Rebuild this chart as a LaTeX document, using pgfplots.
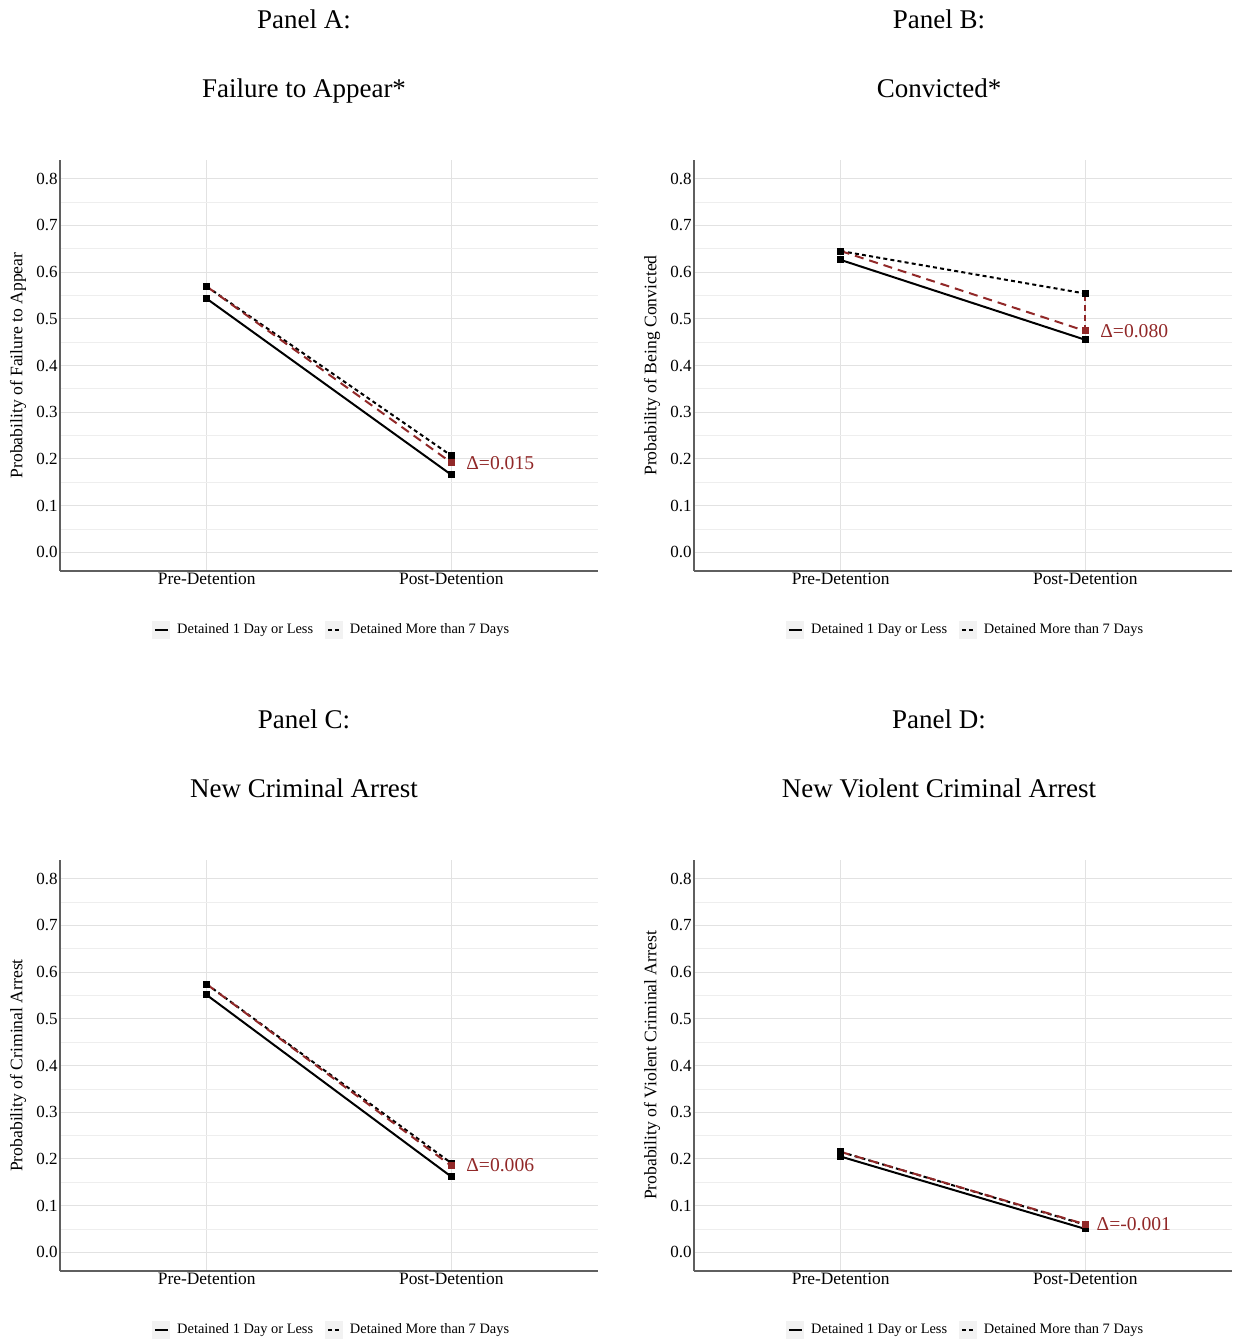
\documentclass[border=0pt]{standalone}
\usepackage{fontspec}
\setmainfont{Liberation Serif}
\usepackage{pgfplots}
\pgfplotsset{compat=1.18}
\definecolor{dred}{RGB}{145,40,40}
\definecolor{gridmaj}{RGB}{226,226,226}
\definecolor{gridmin}{RGB}{238,238,238}
\definecolor{axgray}{RGB}{95,95,95}
\definecolor{keybg}{RGB}{242,242,242}
\pgfplotsset{
  panel/.style={
    scale only axis, width=269pt, height=205.5pt,
    anchor=south west,
    xmin=-0.6, xmax=1.6, ymin=-0.04, ymax=0.84,
    axis x line*=bottom, axis y line*=left,
    axis line style={-, axgray, line width=0.65pt},
    xtick={0,1}, xticklabels={Pre-Detention,Post-Detention},
    ytick={0,0.1,0.2,0.3,0.4,0.5,0.6,0.7,0.8},
    minor ytick={0.05,0.15,0.25,0.35,0.45,0.55,0.65,0.75},
    major tick length=0pt, minor tick length=0pt,
    grid=both,
    major grid style={gridmaj, line width=0.55pt},
    minor grid style={gridmin, line width=0.35pt},
    /pgf/number format/assume math mode=true,
    yticklabel style={font=\fontsize{8.5}{10}\selectfont, inner sep=1pt, /pgf/number format/.cd, fixed, fixed zerofill, precision=1},
    xticklabel style={font=\fontsize{8.7}{10}\selectfont, inner sep=0.6pt},
    every axis y label/.style={at={(axis description cs:-0.078,0.5)}, rotate=90, anchor=center, font=\fontsize{8.8}{10}\selectfont},
    legend style={at={(axis description cs:0.507,-0.1436)}, anchor=center, draw=none, fill=none,
      legend columns=2, font=\fontsize{7.2}{9}\selectfont,
      /tikz/every even column/.append style={column sep=4pt}},
    legend cell align=left,
    clip=false,
  },
  solidl/.style={black, line width=1pt, mark=square*, mark size=1.25pt, mark options={solid}},
  dotl/.style={black, line width=1pt, dash pattern=on 2pt off 1.6pt, mark=square*, mark size=1.25pt, mark options={solid}},
  redl/.style={dred, line width=1pt, dash pattern=on 4.5pt off 3pt, mark=square*, mark size=1.25pt, mark options={solid}, mark indices={2}},
  redv/.style={dred, line width=1pt, dash pattern=on 3pt off 2pt},
  keysolid/.style={legend image code/.code={\fill[keybg] (0pt,-4.2pt) rectangle (8.5pt,4.2pt); \draw[black, line width=1pt] (1pt,0pt) -- (7.5pt,0pt); \path (10pt,0pt);}},
  keydot/.style={legend image code/.code={\fill[keybg] (0pt,-4.2pt) rectangle (8.5pt,4.2pt); \draw[black, line width=1pt, dash pattern=on 2pt off 1.6pt] (1.3pt,0pt) -- (7.5pt,0pt); \path (10pt,0pt);}},
}
\newcommand{\dlabel}[1]{\fontsize{9.8}{11}\selectfont\color{dred}#1}
\begin{document}
\begin{tikzpicture}
\useasboundingbox (0,0) rectangle (616pt,671pt);
% titles
\tikzset{ttl/.style={font=\fontsize{13.5}{15}\selectfont, anchor=base, inner sep=0pt}}
\node[ttl] at (152pt,656.5pt) {Panel A:};
\node[ttl] at (152pt,622pt) {Failure to Appear*};
\node[ttl] at (469.5pt,656.5pt) {Panel B:};
\node[ttl] at (469.5pt,622pt) {Convicted*};
\node[ttl] at (152pt,306.5pt) {Panel C:};
\node[ttl] at (152pt,272pt) {New Criminal Arrest};
\node[ttl] at (469.5pt,306.5pt) {Panel D:};
\node[ttl] at (469.5pt,272pt) {New Violent Criminal Arrest};

% Panel A
\begin{axis}[panel, at={(30pt,385.5pt)}, ylabel={Probability of Failure to Appear}]
\addlegendimage{keysolid}\addlegendentry{Detained 1 Day or Less}
\addlegendimage{keydot}\addlegendentry{Detained More than 7 Days}
\addplot[solidl, forget plot] coordinates {(0,0.543) (1,0.166)};
\addplot[dotl, forget plot] coordinates {(0,0.569) (1,0.207)};
\addplot[redl, forget plot] coordinates {(0,0.569) (1,0.192)};
\addplot[redv, forget plot] coordinates {(1,0.192) (1,0.207)};
\node[anchor=west, inner sep=0pt] at (axis cs:1.06,0.191) {\dlabel{Δ=0.015}};
\end{axis}

% Panel B
\begin{axis}[panel, at={(347pt,385.5pt)}, ylabel={Probability of Being Convicted}]
\addlegendimage{keysolid}\addlegendentry{Detained 1 Day or Less}
\addlegendimage{keydot}\addlegendentry{Detained More than 7 Days}
\addplot[solidl, forget plot] coordinates {(0,0.626) (1,0.455)};
\addplot[dotl, forget plot] coordinates {(0,0.645) (1,0.554)};
\addplot[redl, forget plot] coordinates {(0,0.645) (1,0.474)};
\addplot[redv, forget plot] coordinates {(1,0.474) (1,0.554)};
\node[anchor=west, inner sep=0pt] at (axis cs:1.06,0.474) {\dlabel{Δ=0.080}};
\end{axis}

% Panel C
\begin{axis}[panel, at={(30pt,35.5pt)}, ylabel={Probability of Criminal Arrest}]
\addlegendimage{keysolid}\addlegendentry{Detained 1 Day or Less}
\addlegendimage{keydot}\addlegendentry{Detained More than 7 Days}
\addplot[solidl, forget plot] coordinates {(0,0.551) (1,0.162)};
\addplot[dotl, forget plot] coordinates {(0,0.574) (1,0.191)};
\addplot[redl, forget plot] coordinates {(0,0.574) (1,0.185)};
\addplot[redv, forget plot] coordinates {(1,0.185) (1,0.191)};
\node[anchor=west, inner sep=0pt] at (axis cs:1.06,0.186) {\dlabel{Δ=0.006}};
\end{axis}

% Panel D
\begin{axis}[panel, at={(347pt,35.5pt)}, ylabel={Probability of Violent Criminal Arrest}]
\addlegendimage{keysolid}\addlegendentry{Detained 1 Day or Less}
\addlegendimage{keydot}\addlegendentry{Detained More than 7 Days}
\addplot[solidl, forget plot] coordinates {(0,0.205) (1,0.050)};
\addplot[dotl, forget plot] coordinates {(0,0.215) (1,0.059)};
\addplot[redl, forget plot] coordinates {(0,0.215) (1,0.060)};
\node[anchor=west, inner sep=0pt] at (axis cs:1.045,0.061) {\dlabel{Δ=-0.001}};
\end{axis}
\end{tikzpicture}
\end{document}
